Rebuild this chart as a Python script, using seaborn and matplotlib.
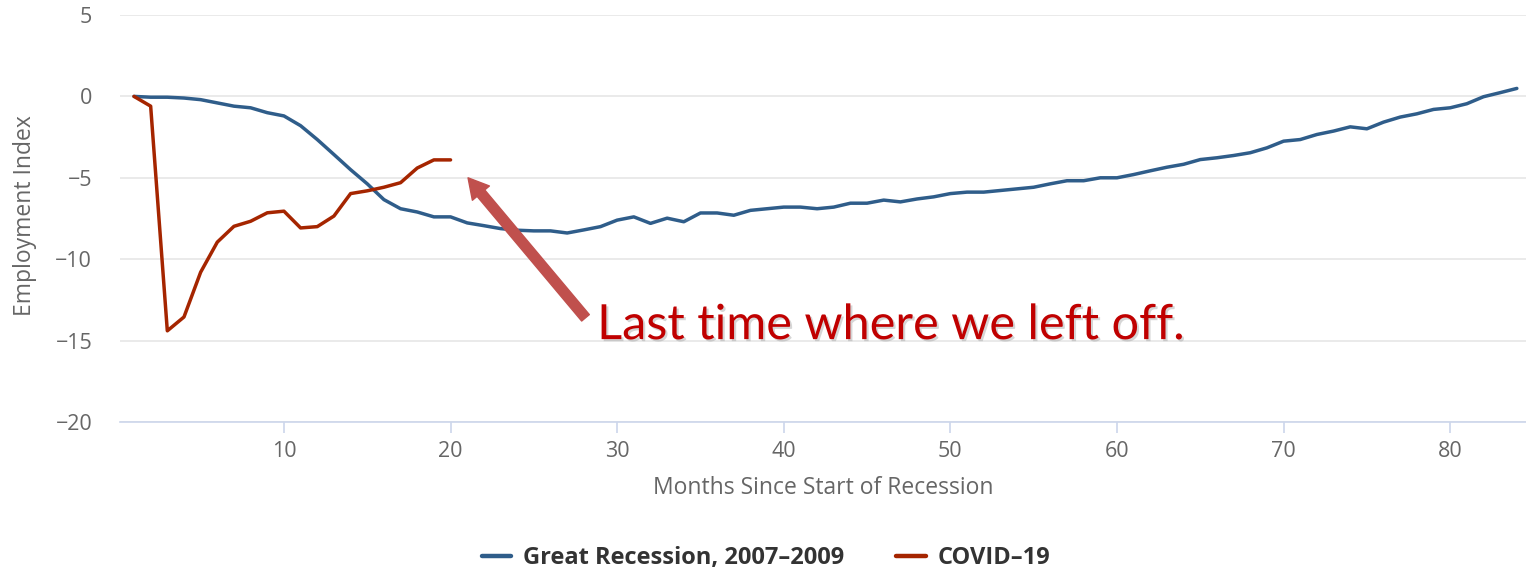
import numpy as np
import pandas as pd
import matplotlib
matplotlib.use("Agg")
import matplotlib.pyplot as plt
import matplotlib.patheffects as pe
from matplotlib.lines import Line2D
import seaborn as sns

# ---- data ----
great_recession = [0.0, -0.05, -0.05, -0.1, -0.2, -0.4, -0.6, -0.7, -1.0, -1.2,
                   -1.8, -2.65, -3.57, -4.5, -5.37, -6.34, -6.9, -7.1, -7.4, -7.4,
                   -7.77, -7.94, -8.12, -8.22, -8.26, -8.26, -8.39, -8.2, -8.0, -7.6,
                   -7.4, -7.8, -7.48, -7.7, -7.16, -7.16, -7.3, -7.0, -6.9, -6.8,
                   -6.8, -6.9, -6.8, -6.56, -6.56, -6.37, -6.48, -6.3, -6.17, -5.97,
                   -5.88, -5.88, -5.78, -5.68, -5.58, -5.37, -5.18, -5.18, -5.0, -5.0,
                   -4.8, -4.57, -4.35, -4.17, -3.88, -3.77, -3.63, -3.46, -3.16, -2.75,
                   -2.65, -2.34, -2.13, -1.87, -1.99, -1.58, -1.27, -1.07, -0.8, -0.7,
                   -0.45, -0.02, 0.23, 0.49]
covid = [0.0, -0.6, -14.4, -13.55, -10.8, -8.95, -7.98, -7.67, -7.15, -7.05,
         -8.08, -8.0, -7.35, -5.97, -5.8, -5.58, -5.3, -4.4, -3.9, -3.9]
series_names = ["Great Recession, 2007\u20132009", "COVID\u201319"]
series_colors = ["#2f5d8a", "#a52500"]
y_ticks = [5, 0, -5, -10, -15, -20]
x_ticks = [10, 20, 30, 40, 50, 60, 70, 80]
annotation_text = "Last time where we left off."

df = pd.concat([
    pd.DataFrame({"month": np.arange(1, len(great_recession) + 1),
                  "value": great_recession, "series": series_names[0]}),
    pd.DataFrame({"month": np.arange(1, len(covid) + 1),
                  "value": covid, "series": series_names[1]}),
])

sns.set_theme(style="white")
plt.rcParams["font.family"] = ["Open Sans", "DejaVu Sans"]

fig = plt.figure(figsize=(15.26, 5.71), dpi=100)
ax = fig.add_axes([120 / 1526, 1 - 422 / 571, 1 - 120 / 1526, (422 - 15) / 571])

sns.lineplot(data=df, x="month", y="value", hue="series",
             palette=dict(zip(series_names, series_colors)),
             linewidth=2.5, ax=ax, legend=False)

ax.set_xlim(0.16, 84.55)
ax.set_ylim(-20, 5)
ax.set_yticks(y_ticks)
ax.set_yticklabels([str(v).replace("-", "\u2212") for v in y_ticks])
ax.set_xticks(x_ticks)
ax.set_xticklabels([str(v) for v in x_ticks])

ax.grid(axis="y", color="#e6e6e6", linewidth=1.2)
ax.grid(axis="x", visible=False)
for side in ["top", "right", "left"]:
    ax.spines[side].set_visible(False)
ax.spines["bottom"].set_color("#ccd6eb")
ax.spines["bottom"].set_linewidth(1.2)
ax.spines["bottom"].set_zorder(5)

ax.tick_params(axis="y", length=0, pad=20, labelsize=15.5, labelcolor="#666666")
ax.tick_params(axis="x", length=8, width=1.2, color="#ccd6eb", pad=6,
               labelsize=15.5, labelcolor="#666666", direction="out", bottom=True)

ax.set_xlabel("Months Since Start of Recession", fontsize=16.5, color="#666666", labelpad=10)
ax.set_ylabel("Employment Index", fontsize=16.5, color="#666666")
ax.yaxis.set_label_coords(-0.059, 0.506)

# annotation arrow and text
ax.annotate("", xy=(21.05, -5.0), xytext=(28.1, -13.6),
            arrowprops=dict(arrowstyle="simple,head_length=0.9,head_width=1.0,tail_width=0.45",
                            color="#c0504d", shrinkA=0, shrinkB=0, mutation_scale=16))
ax.text(28.8, -14.05, annotation_text, fontsize=35, color="#c00000",
        family=["Lato", "DejaVu Sans"], va="center", ha="left",
        path_effects=[pe.withSimplePatchShadow(offset=(1.5, -1.5), shadow_rgbFace="#999999", alpha=0.4)])

# legend
handles = [Line2D([0], [0], color=c, linewidth=3.2) for c in series_colors]
leg = fig.legend(handles, series_names, loc="center", bbox_to_anchor=(0.502, 0.022),
                 ncol=2, frameon=False, handlelength=1.25, handletextpad=0.5,
                 columnspacing=2.2, prop=dict(weight="bold", size=17))
for t in leg.get_texts():
    t.set_color("#333333")

fig.savefig("out.png", dpi=100)
